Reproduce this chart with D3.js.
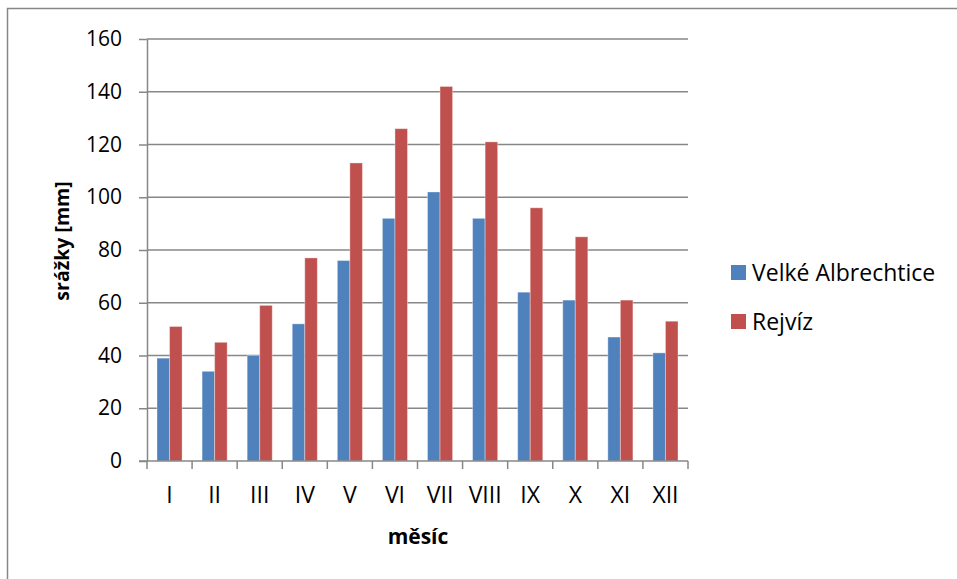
<!DOCTYPE html>
<html>
<head>
<meta charset="utf-8">
<script src="https://cdn.jsdelivr.net/npm/d3@7"></script>
<style>
  html, body { margin: 0; padding: 0; background: #fff; }
  svg { display: block; font-family: "Open Sans", sans-serif; }
</style>
</head>
<body>
<svg id="chart" width="957" height="579"></svg>
<script>
// Monthly precipitation (mm) for two stations
const months = ["I", "II", "III", "IV", "V", "VI", "VII", "VIII", "IX", "X", "XI", "XII"];
const velkeAlbrechtice = [39, 34, 40, 52, 76, 92, 102, 92, 64, 61, 47, 41];
const rejviz = [51, 45, 59, 77, 113, 126, 142, 121, 96, 85, 61, 53];
const seriesNames = ["Velké Albrechtice", "Rejvíz"];
const seriesColors = ["#4F81BD", "#C0504D"];
const yTicks = [0, 20, 40, 60, 80, 100, 120, 140, 160];

const FONT = "'Open Sans', sans-serif";
const svg = d3.select("#chart");
const plot = { left: 147, right: 688, top: 39, bottom: 461 };
const gridColor = "#878787";

// Outer chart frame
svg.append("rect")
  .attr("x", 7.5).attr("y", 8.5)
  .attr("width", 1000).attr("height", 1000)
  .attr("fill", "none").attr("stroke", gridColor).attr("stroke-width", 1.5);

const x = d3.scaleBand().domain(months)
  .range([plot.left, plot.right])
  .paddingInner(0.444).paddingOuter(0.222);
const xs = d3.scaleBand().domain(seriesNames).range([0, x.bandwidth()]);
const y = d3.scaleLinear().domain([0, 160]).range([plot.bottom, plot.top]);

// Horizontal gridlines
svg.append("g").selectAll("line").data(yTicks.filter(t => t > 0)).join("line")
  .attr("x1", plot.left).attr("x2", plot.right)
  .attr("y1", d => y(d)).attr("y2", d => y(d))
  .attr("stroke", gridColor).attr("stroke-width", 1.5);

// Bars
const seriesData = [velkeAlbrechtice, rejviz];
seriesData.forEach((vals, si) => {
  svg.append("g").selectAll("rect").data(vals).join("rect")
    .attr("x", (d, i) => x(months[i]) + xs(seriesNames[si]))
    .attr("y", d => y(d))
    .attr("width", xs.bandwidth())
    .attr("height", d => y(0) - y(d))
    .attr("fill", seriesColors[si])
    .attr("stroke", "rgba(255,255,255,0.35)")
    .attr("stroke-width", 1);
});

// Y axis
const yAxis = svg.append("g")
  .attr("transform", `translate(${plot.left},0)`)
  .call(d3.axisLeft(y).tickValues(yTicks).tickSize(8).tickSizeOuter(0).tickPadding(17));
yAxis.attr("font-family", FONT).attr("font-size", 21);
yAxis.select(".domain").attr("stroke", gridColor).attr("stroke-width", 1.5);
yAxis.selectAll(".tick line").attr("stroke", gridColor).attr("stroke-width", 1.5);
yAxis.selectAll("text").attr("fill", "#000");

// X axis with ticks between categories
const xAxisG = svg.append("g").attr("transform", `translate(0,${plot.bottom})`);
xAxisG.append("line")
  .attr("x1", plot.left - 8).attr("x2", plot.right)
  .attr("y1", 0).attr("y2", 0)
  .attr("stroke", gridColor).attr("stroke-width", 1.5);
const boundaries = d3.range(months.length + 1).map(i => plot.left + i * (plot.right - plot.left) / months.length);
xAxisG.selectAll(".tk").data(boundaries).join("line")
  .attr("class", "tk")
  .attr("x1", d => d).attr("x2", d => d)
  .attr("y1", 0).attr("y2", 8)
  .attr("stroke", gridColor).attr("stroke-width", 1.5);
xAxisG.selectAll("text").data(months).join("text")
  .attr("x", d => x(d) + x.bandwidth() / 2)
  .attr("y", 42)
  .attr("text-anchor", "middle")
  .attr("font-size", 23)
  .attr("fill", "#000")
  .text(d => d);

// Axis titles
svg.append("text")
  .attr("x", 418).attr("y", 544)
  .attr("text-anchor", "middle")
  .attr("font-size", 21).attr("font-weight", "bold")
  .text("měsíc");
svg.append("text")
  .attr("transform", "translate(69,241) rotate(-90)")
  .attr("text-anchor", "middle")
  .attr("font-size", 19.5).attr("font-weight", "bold")
  .text("srážky [mm]");

// Legend
const legend = svg.append("g").attr("transform", "translate(731,265)");
seriesNames.forEach((name, i) => {
  const g = legend.append("g").attr("transform", `translate(0,${i * 49})`);
  g.append("rect").attr("width", 15).attr("height", 15).attr("fill", seriesColors[i]);
  g.append("text").attr("x", 21).attr("y", 15.5)
    .attr("font-size", 23).attr("fill", "#000").text(name);
});
</script>
</body>
</html>
